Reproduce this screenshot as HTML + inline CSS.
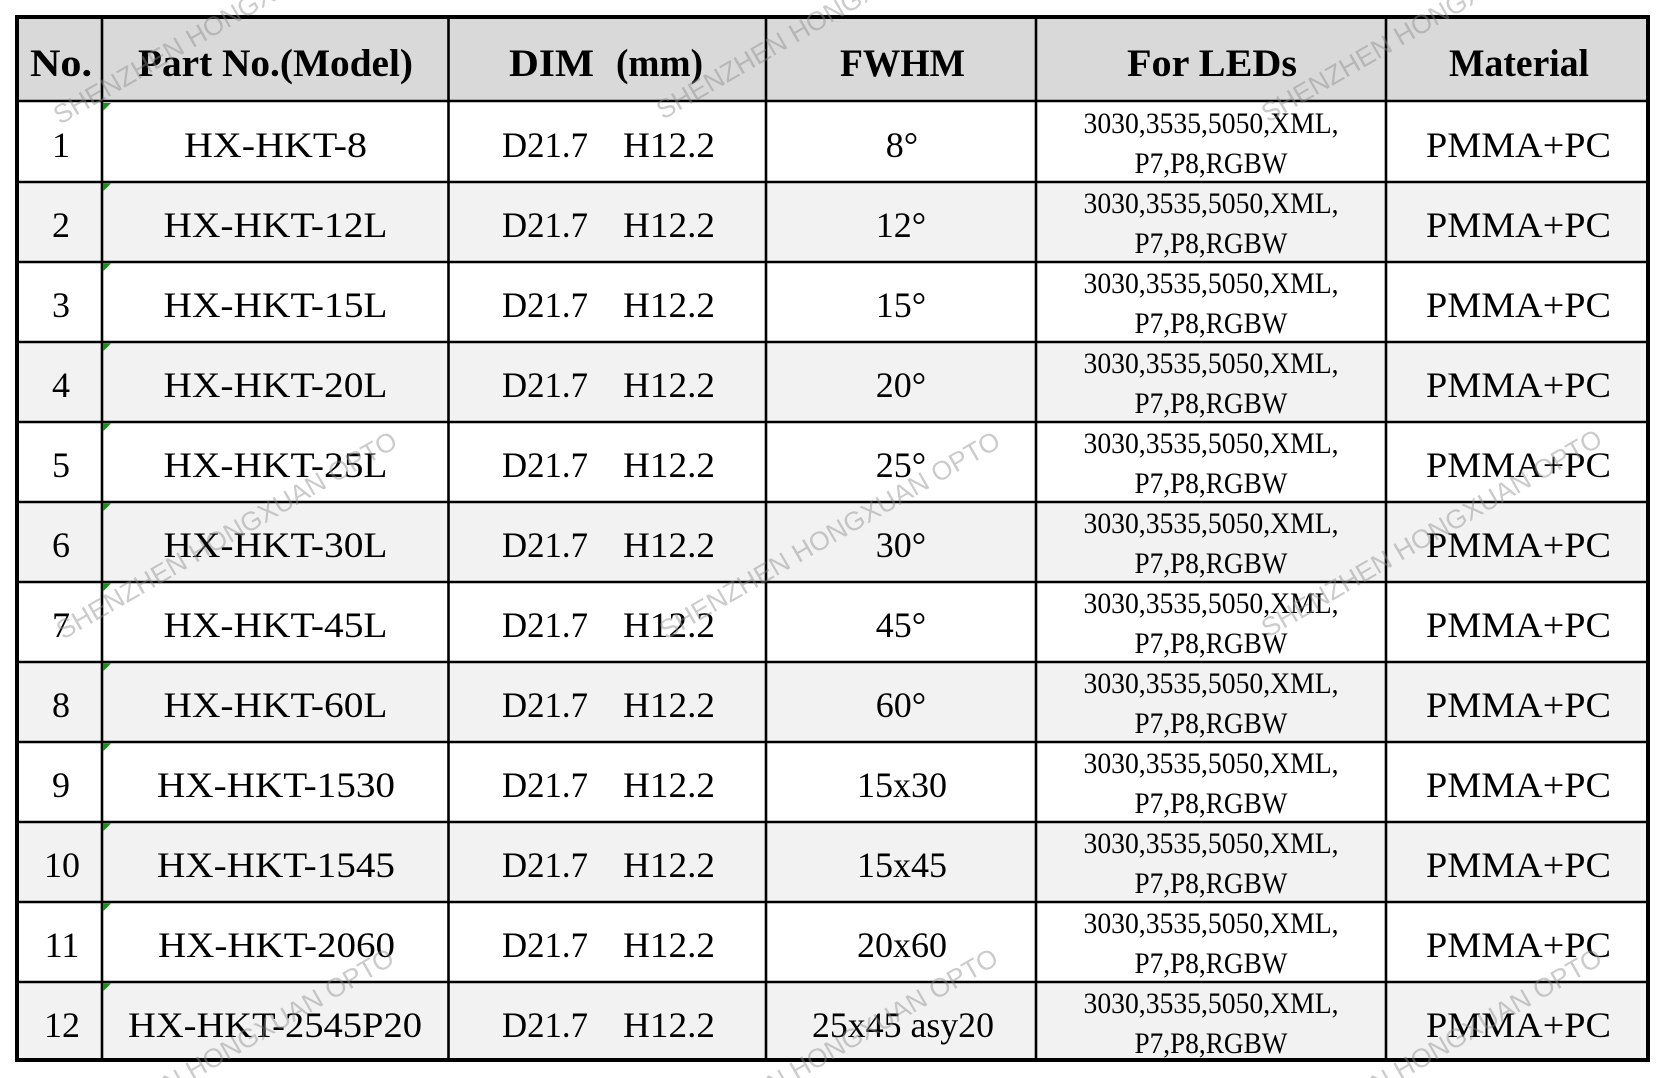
<!DOCTYPE html>
<html>
<head>
<meta charset="utf-8">
<style>
  html, body { margin:0; padding:0; background:#ffffff; }
  body { width:1664px; height:1078px; overflow:hidden; position:relative; }
  svg { display:block; }
  .h { font-family:"Liberation Serif", serif; font-weight:bold; font-size:39px; fill:#000; }
  .b { font-family:"Liberation Serif", serif; font-size:36px; fill:#000; }
  .s { font-family:"Liberation Serif", serif; font-size:30px; fill:#000; }
  .w { font-family:"Liberation Sans", sans-serif; font-size:26.5px; fill:#8c8c8c; fill-opacity:0.45; }
</style>
</head>
<body>
<svg width="1664" height="1078" viewBox="0 0 1664 1078" xmlns="http://www.w3.org/2000/svg" overflow="hidden">
  <defs>
    <clipPath id="pg"><rect x="0" y="0" width="1664" height="1078"/></clipPath>
  </defs>
  <rect x="0" y="0" width="1664" height="1078" fill="#ffffff"/>
  <!-- header background -->
  <rect x="17" y="17" width="1631" height="84" fill="#d9d9d9"/>
  <!-- even row backgrounds -->
  <rect x="17" y="182" width="1631" height="80" fill="#f2f2f2"/>
  <rect x="17" y="342" width="1631" height="80" fill="#f2f2f2"/>
  <rect x="17" y="502" width="1631" height="80" fill="#f2f2f2"/>
  <rect x="17" y="662" width="1631" height="80" fill="#f2f2f2"/>
  <rect x="17" y="822" width="1631" height="80" fill="#f2f2f2"/>
  <rect x="17" y="982" width="1631" height="80" fill="#f2f2f2"/>

  <!-- horizontal lines -->
  <g stroke="#000" stroke-width="2.6">
    <line x1="17" y1="101" x2="1648" y2="101"/>
    <line x1="17" y1="182" x2="1648" y2="182"/>
    <line x1="17" y1="262" x2="1648" y2="262"/>
    <line x1="17" y1="342" x2="1648" y2="342"/>
    <line x1="17" y1="422" x2="1648" y2="422"/>
    <line x1="17" y1="502" x2="1648" y2="502"/>
    <line x1="17" y1="582" x2="1648" y2="582"/>
    <line x1="17" y1="662" x2="1648" y2="662"/>
    <line x1="17" y1="742" x2="1648" y2="742"/>
    <line x1="17" y1="822" x2="1648" y2="822"/>
    <line x1="17" y1="902" x2="1648" y2="902"/>
    <line x1="17" y1="982" x2="1648" y2="982"/>
    <!-- vertical lines -->
    <line x1="102" y1="17" x2="102" y2="1060"/>
    <line x1="448.5" y1="17" x2="448.5" y2="1060"/>
    <line x1="766" y1="17" x2="766" y2="1060"/>
    <line x1="1036" y1="17" x2="1036" y2="1060"/>
    <line x1="1386" y1="17" x2="1386" y2="1060"/>
  </g>
  <!-- outer border -->
  <rect x="17" y="17" width="1631" height="1043" fill="none" stroke="#000" stroke-width="4"/>

  <!-- green indicators -->
  <g fill="#1d8f1d">
    <polygon points="103.5,103 111,103 103.5,110.5"/>
    <polygon points="103.5,183.5 111,183.5 103.5,191"/>
    <polygon points="103.5,263.5 111,263.5 103.5,271"/>
    <polygon points="103.5,343.5 111,343.5 103.5,351"/>
    <polygon points="103.5,423.5 111,423.5 103.5,431"/>
    <polygon points="103.5,503.5 111,503.5 103.5,511"/>
    <polygon points="103.5,583.5 111,583.5 103.5,591"/>
    <polygon points="103.5,663.5 111,663.5 103.5,671"/>
    <polygon points="103.5,743.5 111,743.5 103.5,751"/>
    <polygon points="103.5,823.5 111,823.5 103.5,831"/>
    <polygon points="103.5,903.5 111,903.5 103.5,911"/>
    <polygon points="103.5,983.5 111,983.5 103.5,991"/>
  </g>

  <!-- header text -->
  <text class="h" x="61" y="76" text-anchor="middle" textLength="62" lengthAdjust="spacingAndGlyphs">No.</text>
  <text class="h" x="275.5" y="76" text-anchor="middle" textLength="275" lengthAdjust="spacingAndGlyphs">Part No.(Model)</text>
  <text class="h" x="509" y="76" textLength="85" lengthAdjust="spacingAndGlyphs">DIM</text>
  <text class="h" x="616" y="76" textLength="87" lengthAdjust="spacingAndGlyphs">(mm)</text>
  <text class="h" x="902.5" y="76" text-anchor="middle" textLength="125" lengthAdjust="spacingAndGlyphs">FWHM</text>
  <text class="h" x="1212" y="76" text-anchor="middle" textLength="170" lengthAdjust="spacingAndGlyphs">For LEDs</text>
  <text class="h" x="1519" y="76" text-anchor="middle" textLength="140" lengthAdjust="spacingAndGlyphs">Material</text>

  <!-- Row 1 -->
  <g>
    <text class="b" x="61" y="157" text-anchor="middle">1</text>
    <text class="b" x="275.5" y="157" text-anchor="middle" textLength="183" lengthAdjust="spacingAndGlyphs">HX-HKT-8</text>
    <text class="b" x="502" y="157" textLength="86" lengthAdjust="spacingAndGlyphs">D21.7</text>
    <text class="b" x="623" y="157" textLength="92" lengthAdjust="spacingAndGlyphs">H12.2</text>
    <text class="b" x="902" y="157" text-anchor="middle">8°</text>
    <text class="s" x="1211" y="133" text-anchor="middle" textLength="255" lengthAdjust="spacingAndGlyphs">3030,3535,5050,XML,</text>
    <text class="s" x="1211" y="173" text-anchor="middle" textLength="153" lengthAdjust="spacingAndGlyphs">P7,P8,RGBW</text>
    <text class="b" x="1518.5" y="157" text-anchor="middle" textLength="185" lengthAdjust="spacingAndGlyphs">PMMA+PC</text>
  </g>
  <!-- Row 2 -->
  <g transform="translate(0,80)">
    <text class="b" x="61" y="157" text-anchor="middle">2</text>
    <text class="b" x="275.5" y="157" text-anchor="middle" textLength="224" lengthAdjust="spacingAndGlyphs">HX-HKT-12L</text>
    <text class="b" x="502" y="157" textLength="86" lengthAdjust="spacingAndGlyphs">D21.7</text>
    <text class="b" x="623" y="157" textLength="92" lengthAdjust="spacingAndGlyphs">H12.2</text>
    <text class="b" x="901" y="157" text-anchor="middle">12°</text>
    <text class="s" x="1211" y="133" text-anchor="middle" textLength="255" lengthAdjust="spacingAndGlyphs">3030,3535,5050,XML,</text>
    <text class="s" x="1211" y="173" text-anchor="middle" textLength="153" lengthAdjust="spacingAndGlyphs">P7,P8,RGBW</text>
    <text class="b" x="1518.5" y="157" text-anchor="middle" textLength="185" lengthAdjust="spacingAndGlyphs">PMMA+PC</text>
  </g>
  <!-- Row 3 -->
  <g transform="translate(0,160)">
    <text class="b" x="61" y="157" text-anchor="middle">3</text>
    <text class="b" x="275.5" y="157" text-anchor="middle" textLength="224" lengthAdjust="spacingAndGlyphs">HX-HKT-15L</text>
    <text class="b" x="502" y="157" textLength="86" lengthAdjust="spacingAndGlyphs">D21.7</text>
    <text class="b" x="623" y="157" textLength="92" lengthAdjust="spacingAndGlyphs">H12.2</text>
    <text class="b" x="901" y="157" text-anchor="middle">15°</text>
    <text class="s" x="1211" y="133" text-anchor="middle" textLength="255" lengthAdjust="spacingAndGlyphs">3030,3535,5050,XML,</text>
    <text class="s" x="1211" y="173" text-anchor="middle" textLength="153" lengthAdjust="spacingAndGlyphs">P7,P8,RGBW</text>
    <text class="b" x="1518.5" y="157" text-anchor="middle" textLength="185" lengthAdjust="spacingAndGlyphs">PMMA+PC</text>
  </g>
  <!-- Row 4 -->
  <g transform="translate(0,240)">
    <text class="b" x="61" y="157" text-anchor="middle">4</text>
    <text class="b" x="275.5" y="157" text-anchor="middle" textLength="224" lengthAdjust="spacingAndGlyphs">HX-HKT-20L</text>
    <text class="b" x="502" y="157" textLength="86" lengthAdjust="spacingAndGlyphs">D21.7</text>
    <text class="b" x="623" y="157" textLength="92" lengthAdjust="spacingAndGlyphs">H12.2</text>
    <text class="b" x="901" y="157" text-anchor="middle">20°</text>
    <text class="s" x="1211" y="133" text-anchor="middle" textLength="255" lengthAdjust="spacingAndGlyphs">3030,3535,5050,XML,</text>
    <text class="s" x="1211" y="173" text-anchor="middle" textLength="153" lengthAdjust="spacingAndGlyphs">P7,P8,RGBW</text>
    <text class="b" x="1518.5" y="157" text-anchor="middle" textLength="185" lengthAdjust="spacingAndGlyphs">PMMA+PC</text>
  </g>
  <!-- Row 5 -->
  <g transform="translate(0,320)">
    <text class="b" x="61" y="157" text-anchor="middle">5</text>
    <text class="b" x="275.5" y="157" text-anchor="middle" textLength="224" lengthAdjust="spacingAndGlyphs">HX-HKT-25L</text>
    <text class="b" x="502" y="157" textLength="86" lengthAdjust="spacingAndGlyphs">D21.7</text>
    <text class="b" x="623" y="157" textLength="92" lengthAdjust="spacingAndGlyphs">H12.2</text>
    <text class="b" x="901" y="157" text-anchor="middle">25°</text>
    <text class="s" x="1211" y="133" text-anchor="middle" textLength="255" lengthAdjust="spacingAndGlyphs">3030,3535,5050,XML,</text>
    <text class="s" x="1211" y="173" text-anchor="middle" textLength="153" lengthAdjust="spacingAndGlyphs">P7,P8,RGBW</text>
    <text class="b" x="1518.5" y="157" text-anchor="middle" textLength="185" lengthAdjust="spacingAndGlyphs">PMMA+PC</text>
  </g>
  <!-- Row 6 -->
  <g transform="translate(0,400)">
    <text class="b" x="61" y="157" text-anchor="middle">6</text>
    <text class="b" x="275.5" y="157" text-anchor="middle" textLength="224" lengthAdjust="spacingAndGlyphs">HX-HKT-30L</text>
    <text class="b" x="502" y="157" textLength="86" lengthAdjust="spacingAndGlyphs">D21.7</text>
    <text class="b" x="623" y="157" textLength="92" lengthAdjust="spacingAndGlyphs">H12.2</text>
    <text class="b" x="901" y="157" text-anchor="middle">30°</text>
    <text class="s" x="1211" y="133" text-anchor="middle" textLength="255" lengthAdjust="spacingAndGlyphs">3030,3535,5050,XML,</text>
    <text class="s" x="1211" y="173" text-anchor="middle" textLength="153" lengthAdjust="spacingAndGlyphs">P7,P8,RGBW</text>
    <text class="b" x="1518.5" y="157" text-anchor="middle" textLength="185" lengthAdjust="spacingAndGlyphs">PMMA+PC</text>
  </g>
  <!-- Row 7 -->
  <g transform="translate(0,480)">
    <text class="b" x="61" y="157" text-anchor="middle">7</text>
    <text class="b" x="275.5" y="157" text-anchor="middle" textLength="224" lengthAdjust="spacingAndGlyphs">HX-HKT-45L</text>
    <text class="b" x="502" y="157" textLength="86" lengthAdjust="spacingAndGlyphs">D21.7</text>
    <text class="b" x="623" y="157" textLength="92" lengthAdjust="spacingAndGlyphs">H12.2</text>
    <text class="b" x="901" y="157" text-anchor="middle">45°</text>
    <text class="s" x="1211" y="133" text-anchor="middle" textLength="255" lengthAdjust="spacingAndGlyphs">3030,3535,5050,XML,</text>
    <text class="s" x="1211" y="173" text-anchor="middle" textLength="153" lengthAdjust="spacingAndGlyphs">P7,P8,RGBW</text>
    <text class="b" x="1518.5" y="157" text-anchor="middle" textLength="185" lengthAdjust="spacingAndGlyphs">PMMA+PC</text>
  </g>
  <!-- Row 8 -->
  <g transform="translate(0,560)">
    <text class="b" x="61" y="157" text-anchor="middle">8</text>
    <text class="b" x="275.5" y="157" text-anchor="middle" textLength="224" lengthAdjust="spacingAndGlyphs">HX-HKT-60L</text>
    <text class="b" x="502" y="157" textLength="86" lengthAdjust="spacingAndGlyphs">D21.7</text>
    <text class="b" x="623" y="157" textLength="92" lengthAdjust="spacingAndGlyphs">H12.2</text>
    <text class="b" x="901" y="157" text-anchor="middle">60°</text>
    <text class="s" x="1211" y="133" text-anchor="middle" textLength="255" lengthAdjust="spacingAndGlyphs">3030,3535,5050,XML,</text>
    <text class="s" x="1211" y="173" text-anchor="middle" textLength="153" lengthAdjust="spacingAndGlyphs">P7,P8,RGBW</text>
    <text class="b" x="1518.5" y="157" text-anchor="middle" textLength="185" lengthAdjust="spacingAndGlyphs">PMMA+PC</text>
  </g>
  <!-- Row 9 -->
  <g transform="translate(0,640)">
    <text class="b" x="61" y="157" text-anchor="middle">9</text>
    <text class="b" x="276" y="157" text-anchor="middle" textLength="238" lengthAdjust="spacingAndGlyphs">HX-HKT-1530</text>
    <text class="b" x="502" y="157" textLength="86" lengthAdjust="spacingAndGlyphs">D21.7</text>
    <text class="b" x="623" y="157" textLength="92" lengthAdjust="spacingAndGlyphs">H12.2</text>
    <text class="b" x="902" y="157" text-anchor="middle">15x30</text>
    <text class="s" x="1211" y="133" text-anchor="middle" textLength="255" lengthAdjust="spacingAndGlyphs">3030,3535,5050,XML,</text>
    <text class="s" x="1211" y="173" text-anchor="middle" textLength="153" lengthAdjust="spacingAndGlyphs">P7,P8,RGBW</text>
    <text class="b" x="1518.5" y="157" text-anchor="middle" textLength="185" lengthAdjust="spacingAndGlyphs">PMMA+PC</text>
  </g>
  <!-- Row 10 -->
  <g transform="translate(0,720)">
    <text class="b" x="62" y="157" text-anchor="middle">10</text>
    <text class="b" x="276" y="157" text-anchor="middle" textLength="238" lengthAdjust="spacingAndGlyphs">HX-HKT-1545</text>
    <text class="b" x="502" y="157" textLength="86" lengthAdjust="spacingAndGlyphs">D21.7</text>
    <text class="b" x="623" y="157" textLength="92" lengthAdjust="spacingAndGlyphs">H12.2</text>
    <text class="b" x="902" y="157" text-anchor="middle">15x45</text>
    <text class="s" x="1211" y="133" text-anchor="middle" textLength="255" lengthAdjust="spacingAndGlyphs">3030,3535,5050,XML,</text>
    <text class="s" x="1211" y="173" text-anchor="middle" textLength="153" lengthAdjust="spacingAndGlyphs">P7,P8,RGBW</text>
    <text class="b" x="1518.5" y="157" text-anchor="middle" textLength="185" lengthAdjust="spacingAndGlyphs">PMMA+PC</text>
  </g>
  <!-- Row 11 -->
  <g transform="translate(0,800)">
    <text class="b" x="62" y="157" text-anchor="middle">11</text>
    <text class="b" x="276.5" y="157" text-anchor="middle" textLength="237" lengthAdjust="spacingAndGlyphs">HX-HKT-2060</text>
    <text class="b" x="502" y="157" textLength="86" lengthAdjust="spacingAndGlyphs">D21.7</text>
    <text class="b" x="623" y="157" textLength="92" lengthAdjust="spacingAndGlyphs">H12.2</text>
    <text class="b" x="902" y="157" text-anchor="middle">20x60</text>
    <text class="s" x="1211" y="133" text-anchor="middle" textLength="255" lengthAdjust="spacingAndGlyphs">3030,3535,5050,XML,</text>
    <text class="s" x="1211" y="173" text-anchor="middle" textLength="153" lengthAdjust="spacingAndGlyphs">P7,P8,RGBW</text>
    <text class="b" x="1518.5" y="157" text-anchor="middle" textLength="185" lengthAdjust="spacingAndGlyphs">PMMA+PC</text>
  </g>
  <!-- Row 12 -->
  <g transform="translate(0,880)">
    <text class="b" x="62" y="157" text-anchor="middle">12</text>
    <text class="b" x="275" y="157" text-anchor="middle" textLength="294" lengthAdjust="spacingAndGlyphs">HX-HKT-2545P20</text>
    <text class="b" x="502" y="157" textLength="86" lengthAdjust="spacingAndGlyphs">D21.7</text>
    <text class="b" x="623" y="157" textLength="92" lengthAdjust="spacingAndGlyphs">H12.2</text>
    <text class="b" x="903" y="157" text-anchor="middle" textLength="182" lengthAdjust="spacingAndGlyphs">25x45 asy20</text>
    <text class="s" x="1211" y="133" text-anchor="middle" textLength="255" lengthAdjust="spacingAndGlyphs">3030,3535,5050,XML,</text>
    <text class="s" x="1211" y="173" text-anchor="middle" textLength="153" lengthAdjust="spacingAndGlyphs">P7,P8,RGBW</text>
    <text class="b" x="1518.5" y="157" text-anchor="middle" textLength="185" lengthAdjust="spacingAndGlyphs">PMMA+PC</text>
  </g>

  <!-- watermarks -->
  <g clip-path="url(#pg)">
    <text class="w" x="60" y="125" transform="rotate(-30 60 125)">SHENZHEN HONGXUAN OPTO</text>
    <text class="w" x="663" y="120" transform="rotate(-30 663 120)">SHENZHEN HONGXUAN OPTO</text>
    <text class="w" x="1268" y="123" transform="rotate(-30 1268 123)">SHENZHEN HONGXUAN OPTO</text>
    <text class="w" x="63" y="640" transform="rotate(-30 63 640)">SHENZHEN HONGXUAN OPTO</text>
    <text class="w" x="666" y="640" transform="rotate(-30 666 640)">SHENZHEN HONGXUAN OPTO</text>
    <text class="w" x="1268" y="638" transform="rotate(-30 1268 638)">SHENZHEN HONGXUAN OPTO</text>
    <text class="w" x="169.6" y="1093.7" transform="rotate(-30 169.6 1093.7)">N HONGXUAN OPTO</text>
    <text class="w" x="773.6" y="1093.7" transform="rotate(-30 773.6 1093.7)">N HONGXUAN OPTO</text>
    <text class="w" x="1377.6" y="1093.7" transform="rotate(-30 1377.6 1093.7)">N HONGXUAN OPTO</text>
  </g>
</svg>
</body>
</html>
